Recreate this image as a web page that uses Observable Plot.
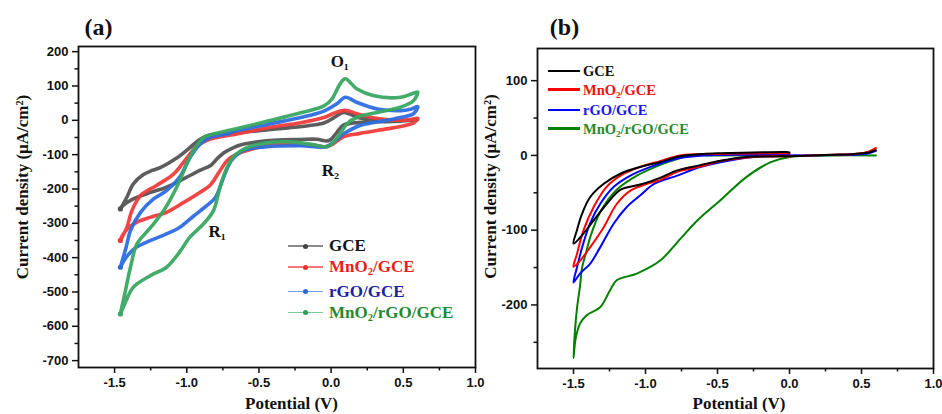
<!DOCTYPE html>
<html>
<head>
<meta charset="utf-8">
<script src="https://cdn.jsdelivr.net/npm/d3@7"></script>
<script src="https://cdn.jsdelivr.net/npm/@observablehq/plot@0.6"></script>
<style>
  body { margin: 0; background: #fff; }
  #page { position: relative; width: 942px; height: 414px; overflow: hidden; background: #fff; }
  .panel { position: absolute; top: 0; }
  .panel svg { overflow: visible; }
  .legend-row { position: absolute; display: flex; align-items: center; height: 20px; white-space: nowrap;
    font-family: "Liberation Serif", "Times New Roman", serif; font-weight: bold; line-height: 20px; }
  .swatch { position: relative; display: inline-block; height: 20px; }
  .swatch .ln { position: absolute; left: 0; right: 0; }
  .swatch .pt { position: absolute; border-radius: 50%; }
  sub { font-size: 0.62em; vertical-align: -0.3em; line-height: 0; }
</style>
</head>
<body>
<div id="page"></div>
<script>
// ---------- Cyclic voltammograms, panel (a): [potential V, current density µA/cm²] ----------
const gceA = [
  [-1.46,-258],[-1.415,-224],[-1.37,-185],[-1.30,-158],[-1.24,-146],[-1.18,-137],[-1.07,-110],
  [-0.98,-80],[-0.91,-56],[-0.84,-43],[-0.72,-38],[-0.60,-34],[-0.45,-28],[-0.30,-22],[-0.15,-15],
  [-0.05,-8],[0.02,8],[0.085,23],[0.13,18],[0.18,9],[0.27,3],[0.36,0],[0.48,-1],[0.57,0],[0.60,2],
  [0.50,-2],[0.38,-4],[0.25,-5],[0.15,-8],[0.085,-14],[0.04,-35],[0.00,-55],[-0.03,-60],[-0.10,-55],
  [-0.22,-56],[-0.33,-57],[-0.45,-60],[-0.56,-66],[-0.63,-72],[-0.68,-80],[-0.745,-95],[-0.79,-112],
  [-0.83,-130],[-0.91,-146],[-1.02,-170],[-1.14,-195],[-1.25,-210],[-1.37,-229],[-1.44,-248],[-1.46,-258]
];
const mno2A = [
  [-1.46,-350],[-1.415,-312],[-1.38,-263],[-1.32,-219],[-1.21,-190],[-1.09,-156],[-1.0,-110],
  [-0.93,-75],[-0.86,-58],[-0.79,-50],[-0.68,-42],[-0.445,-22],[-0.21,-7],[-0.05,8],[0.016,20],
  [0.097,29],[0.18,19],[0.32,5],[0.48,0],[0.55,2],[0.60,6],
  [0.57,-8],[0.48,-18],[0.385,-25],[0.2,-38],[0.085,-48],[0.016,-68],[-0.03,-77],[-0.1,-74],
  [-0.21,-70],[-0.33,-69],[-0.45,-74],[-0.56,-85],[-0.65,-98],[-0.72,-117],[-0.77,-147],[-0.84,-190],
  [-0.91,-210],[-1.02,-239],[-1.14,-268],[-1.25,-282],[-1.37,-302],[-1.44,-331],[-1.46,-350]
];
const rgoA = [
  [-1.46,-428],[-1.42,-370],[-1.39,-321],[-1.32,-268],[-1.23,-229],[-1.14,-205],[-1.05,-166],
  [-0.98,-110],[-0.91,-70],[-0.84,-50],[-0.72,-40],[-0.68,-33],[-0.445,-12],[-0.21,8],[-0.05,27],
  [0.04,48],[0.097,67],[0.18,52],[0.32,33],[0.48,28],[0.55,32],[0.60,40],
  [0.57,19],[0.48,8],[0.385,0],[0.2,-15],[0.085,-40],[0.016,-64],[-0.04,-77],[-0.21,-74],
  [-0.445,-77],[-0.61,-88],[-0.69,-117],[-0.745,-166],[-0.80,-224],[-0.86,-248],[-0.95,-278],
  [-1.05,-312],[-1.14,-331],[-1.25,-350],[-1.35,-370],[-1.42,-399],[-1.46,-428]
];
const mno2RgoA = [
  [-1.46,-564],[-1.43,-506],[-1.39,-428],[-1.345,-360],[-1.25,-312],[-1.16,-263],[-1.07,-195],
  [-1.0,-127],[-0.94,-79],[-0.88,-49],[-0.815,-40],[-0.68,-27],[-0.445,-3],[-0.21,22],[-0.05,42],
  [0.005,62],[0.062,106],[0.097,121],[0.18,91],[0.29,72],[0.48,67],[0.57,79],[0.60,82],
  [0.57,57],[0.48,38],[0.32,23],[0.18,9],[0.11,-10],[0.06,-40],[0.016,-64],[-0.03,-77],[-0.12,-71],
  [-0.33,-62],[-0.56,-76],[-0.63,-90],[-0.68,-108],[-0.72,-137],[-0.77,-195],[-0.815,-263],
  [-0.885,-302],[-0.98,-341],[-1.05,-384],[-1.14,-428],[-1.25,-452],[-1.37,-486],[-1.43,-535],[-1.46,-564]
];

// ---------- Panel (b) ----------
const gceB = [
  [0.60,7],[0.55,4],[0.45,2],[0.30,1],[0.15,0],[0.0,-1],[-0.15,-1.5],[-0.30,-2],[-0.48,-7],[-0.62,-13],
  [-0.78,-20],[-0.90,-30],[-0.97,-35],[-1.06,-40],[-1.175,-46],[-1.27,-65],[-1.36,-87],[-1.45,-109],[-1.50,-118],
  [-1.476,-100],[-1.44,-78],[-1.385,-56],[-1.29,-38],[-1.175,-24.5],[-1.04,-15.6],[-0.90,-9],[-0.76,-1],
  [-0.60,2],[-0.48,3],[-0.25,4],[-0.02,4.5],[0.0,4]
];
const mno2B = [
  [0.60,10],[0.55,5],[0.45,2],[0.30,1],[0.15,0],[0.0,-1],[-0.25,-2],[-0.48,-7.6],[-0.62,-15],[-0.78,-22],
  [-0.90,-33],[-0.99,-38],[-1.105,-47],[-1.2,-65],[-1.29,-96],[-1.385,-123],[-1.455,-141],[-1.50,-149],
  [-1.476,-132],[-1.43,-100],[-1.36,-69],[-1.27,-42],[-1.15,-24.5],[-1.04,-15.6],[-0.9,-7.6],[-0.76,0],
  [-0.48,2],[-0.02,3],[0.0,3]
];
const rgoB = [
  [0.60,6],[0.55,3],[0.45,1],[0.30,0.5],[0.15,0],[0.0,0],[-0.25,-2],[-0.48,-9],[-0.62,-15.6],[-0.78,-27],
  [-0.94,-38],[-1.04,-54],[-1.13,-69],[-1.22,-91],[-1.315,-123],[-1.385,-145],[-1.455,-158],[-1.50,-170],
  [-1.476,-150],[-1.44,-123],[-1.385,-91],[-1.315,-65],[-1.22,-42],[-1.105,-27],[-0.97,-15.6],[-0.80,-5],
  [-0.60,0],[-0.30,1],[0.0,1]
];
const mno2RgoB = [
  [0.60,0],[0.30,0],[0.0,-2],[-0.13,-9],[-0.30,-29],[-0.48,-60],[-0.64,-87],[-0.76,-112],[-0.90,-141],
  [-1.06,-158],[-1.2,-167],[-1.245,-180],[-1.315,-203],[-1.41,-214],[-1.455,-225],[-1.485,-245],[-1.50,-271],
  [-1.49,-235],[-1.476,-205],[-1.455,-175],[-1.44,-150],[-1.41,-128],[-1.385,-110],[-1.315,-76],[-1.2,-46],
  [-1.06,-27],[-0.94,-16],[-0.83,-8],[-0.71,-1],[-0.5,0],[0.0,0]
];

// Electrode names (legend text), in drawing order
const electrodes = ["GCE", "MnO<sub>2</sub>/GCE", "rGO/GCE", "MnO<sub>2</sub>/rGO/GCE"];

// Axis ticks
const xTicks = [-1.5, -1.0, -0.5, 0.0, 0.5, 1.0];
const xMinor = [-1.25, -0.75, -0.25, 0.25, 0.75];
const yTicksA = [200, 100, 0, -100, -200, -300, -400, -500, -600, -700];
const yMinorA = [150, 50, -50, -150, -250, -350, -450, -550, -650];
const yTicksB = [100, 0, -100, -200];
const yMinorB = [50, -50, -150, -250];

// Peak annotations on panel (a)
const peaksA = [
  {v: 0.06, i: 171, label: "O₁"},
  {v: -0.005, i: -147, label: "R₂"},
  {v: -0.79, i: -325, label: "R₁"}
];

const serif = '"Liberation Serif","Times New Roman",serif';
const sans = '"Liberation Sans",Arial,sans-serif';
const fmtX = d => d.toFixed(1);
const fmtY = d => String(d);
const px = d => d[0], py = d => d[1];

const styleA = {
  curves: [gceA, mno2A, rgoA, mno2RgoA],
  stroke: ["#545454", "#ef3c3c", "#2d6ee0", "#3aa862"],
  legendLine: ["#8a8a8a", "#f47a7a", "#6f9ceb", "#7ecb9a"],
  legendDot: ["#444", "#e83030", "#2a66d8", "#2f9e58"],
  text: ["#111", "#ea1c22", "#1f1fa3", "#1f8a2f"]
};
const styleB = {
  curves: [gceB, mno2B, rgoB, mno2RgoB],
  stroke: ["#000000", "#ff0000", "#0000ff", "#008000"],
  text: ["#111", "#ee1111", "#1818ee", "#2a8a2a"]
};

function axes(yTicks, yMinor, sw) {
  return [
    Plot.axisX({ticks: xTicks, tickSize: 6, tickPadding: 4, tickFormat: fmtX, label: null, strokeWidth: sw}),
    Plot.axisX({ticks: xMinor, tickSize: 3.5, tickFormat: () => "", label: null, strokeWidth: sw}),
    Plot.axisY({ticks: yTicks, tickSize: 6, tickPadding: 4, tickFormat: fmtY, label: null, strokeWidth: sw}),
    Plot.axisY({ticks: yMinor, tickSize: 3.5, tickFormat: () => "", label: null, strokeWidth: sw})
  ];
}

function axisTitles(title, ylDx, ylDy, xlDx, xlDy, tDx, tDy) {
  const font = {fontFamily: serif, fontWeight: "bold", fill: "#111", textAnchor: "middle", lineAnchor: "middle"};
  return [
    Plot.text(["Current density (μA/cm²)"], {frameAnchor: "left", rotate: -90, dx: ylDx, dy: ylDy, fontSize: 17, ...font}),
    Plot.text(["Potential (V)"], {frameAnchor: "bottom", dx: xlDx, dy: xlDy, fontSize: 17, ...font}),
    Plot.text([title], {frameAnchor: "top-left", dx: tDx, dy: tDy, fontSize: 24, ...font})
  ];
}

// Panel (a)
const chartA = Plot.plot({
  width: 500, height: 414,
  marginLeft: 78, marginRight: 25, marginTop: 46, marginBottom: 47,
  x: {domain: [-1.75, 1.0]},
  y: {domain: [-720, 215]},
  style: {fontFamily: sans, fontSize: "13px", fontWeight: "bold", color: "#111", background: "none"},
  marks: [
    ...axes(yTicksA, yMinorA, 1.5),
    ...styleA.curves.map((c, k) => Plot.line(c, {x: px, y: py, stroke: styleA.stroke[k], strokeWidth: 3.6,
      strokeOpacity: 0.95, curve: "catmull-rom", strokeLinejoin: "round", strokeLinecap: "round"})),
    ...styleA.curves.map((c, k) => Plot.dot([c[0]], {x: px, y: py, r: 2.6, fill: styleA.stroke[k]})),
    Plot.text(peaksA, {x: "v", y: "i", text: "label", fontFamily: serif, fontSize: 17, fontWeight: "bold", fill: "#111"}),
    Plot.frame({stroke: "#111", strokeWidth: 1.8}),
    ...axisTitles("(a)", -56, -20, 14.5, 36.5, 20, -19)
  ]
});

// Panel (b)
const chartB = Plot.plot({
  width: 462, height: 414,
  marginLeft: 57, marginRight: 9, marginTop: 48, marginBottom: 46,
  x: {domain: [-1.75, 1.0]},
  y: {domain: [-285, 143]},
  style: {fontFamily: sans, fontSize: "13px", fontWeight: "bold", color: "#111", background: "none"},
  marks: [
    ...axes(yTicksB, yMinorB, 1.5),
    ...[3, 2, 1, 0].map(k => Plot.line(styleB.curves[k], {x: px, y: py, stroke: styleB.stroke[k], strokeWidth: 2,
      curve: "catmull-rom", strokeLinejoin: "round"})),
    Plot.frame({stroke: "#111", strokeWidth: 1.8}),
    ...axisTitles("(b)", -47, -22, 3.5, 35.5, 27, -21)
  ]
});

const page = document.getElementById("page");
function addPanel(svg, left, width) {
  const div = document.createElement("div");
  div.className = "panel";
  div.style.left = left + "px";
  div.style.width = width + "px";
  div.appendChild(svg);
  page.appendChild(div);
}
addPanel(chartA, 0, 500);
addPanel(chartB, 480, 462);

// Legends
function addLegend(opts) {
  electrodes.forEach((name, k) => {
    const row = document.createElement("div");
    row.className = "legend-row";
    row.style.left = opts.left + "px";
    row.style.top = (opts.rows[k] - 10) + "px";
    row.style.fontSize = opts.fontSize + "px";
    const sw = document.createElement("span");
    sw.className = "swatch";
    sw.style.width = opts.lineLen + "px";
    const ln = document.createElement("span");
    ln.className = "ln";
    ln.style.top = (10 - opts.lineW / 2) + "px";
    ln.style.height = opts.lineW + "px";
    ln.style.background = opts.lineColor[k];
    sw.appendChild(ln);
    if (opts.dotColor) {
      const pt = document.createElement("span");
      pt.className = "pt";
      pt.style.width = pt.style.height = "5px";
      pt.style.left = (opts.lineLen / 2 - 2.5) + "px";
      pt.style.top = "7.5px";
      pt.style.background = opts.dotColor[k];
      sw.appendChild(pt);
    }
    const tx = document.createElement("span");
    tx.innerHTML = name;
    tx.style.color = opts.textColor[k];
    tx.style.marginLeft = opts.gap + "px";
    row.appendChild(sw);
    row.appendChild(tx);
    page.appendChild(row);
  });
}
addLegend({left: 288, rows: [246, 267, 291.5, 312.5], fontSize: 17, lineLen: 35, lineW: 1.5, gap: 6,
  lineColor: styleA.legendLine, dotColor: styleA.legendDot, textColor: styleA.text});
addLegend({left: 548, rows: [71, 89.5, 110, 128.5], fontSize: 14.5, lineLen: 32, lineW: 2.5, gap: 3,
  lineColor: styleB.stroke, dotColor: null, textColor: styleB.text});
</script>
</body>
</html>
